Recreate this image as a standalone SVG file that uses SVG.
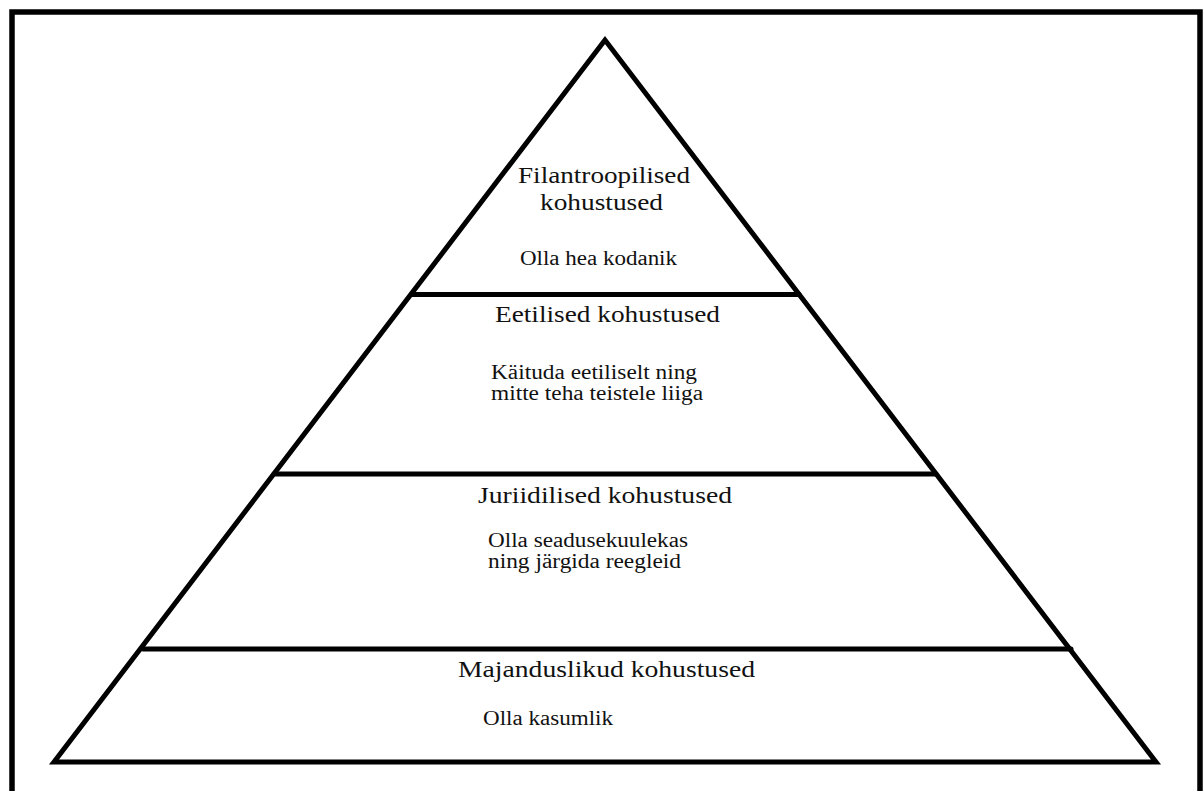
<svg xmlns="http://www.w3.org/2000/svg" width="1203" height="791" viewBox="0 0 1203 791">
<style>
.ln{stroke:#000;stroke-width:5;fill:none;stroke-linecap:round;stroke-linejoin:miter}
.t{font-family:"Liberation Serif","Times New Roman",serif;font-size:24px;fill:#111}
.b{font-family:"Liberation Serif","Times New Roman",serif;font-size:20px;fill:#111}
</style>
<rect width="1203" height="791" fill="#fff"/>
<path d="M12 791 V12 H1200 V791" stroke="#000" stroke-width="5.5" fill="none"/>
<g id="connectors">
<path class="ln" d="M605 40 L54 762 L1156 762 Z"/>
<line class="ln" x1="412" y1="294.5" x2="799" y2="294.5"/>
<line class="ln" x1="274" y1="474" x2="936" y2="474"/>
<line class="ln" x1="143" y1="649" x2="1071" y2="649"/>
</g>
<g id="filantroopilised">
<text class="t" x="518" y="183" textLength="172" lengthAdjust="spacingAndGlyphs">Filantroopilised</text>
<text class="t" x="540" y="210" textLength="123" lengthAdjust="spacingAndGlyphs">kohustused</text>
<text class="b" x="520" y="265" textLength="157" lengthAdjust="spacingAndGlyphs">Olla hea kodanik</text>
</g>
<g id="eetilised">
<text class="t" x="495" y="322" textLength="225" lengthAdjust="spacingAndGlyphs">Eetilised kohustused</text>
<text class="b" x="491" y="379" textLength="206" lengthAdjust="spacingAndGlyphs">Käituda eetiliselt ning</text>
<text class="b" x="491" y="400" textLength="212" lengthAdjust="spacingAndGlyphs">mitte teha teistele liiga</text>
</g>
<g id="juriidilised">
<text class="t" x="478" y="503" textLength="254" lengthAdjust="spacingAndGlyphs">Juriidilised kohustused</text>
<text class="b" x="488" y="547" textLength="200" lengthAdjust="spacingAndGlyphs">Olla seadusekuulekas</text>
<text class="b" x="488" y="568" textLength="193" lengthAdjust="spacingAndGlyphs">ning järgida reegleid</text>
</g>
<g id="majanduslikud">
<text class="t" x="458" y="677" textLength="297" lengthAdjust="spacingAndGlyphs">Majanduslikud kohustused</text>
<text class="b" x="483" y="725" textLength="130" lengthAdjust="spacingAndGlyphs">Olla kasumlik</text>
</g>
</svg>
